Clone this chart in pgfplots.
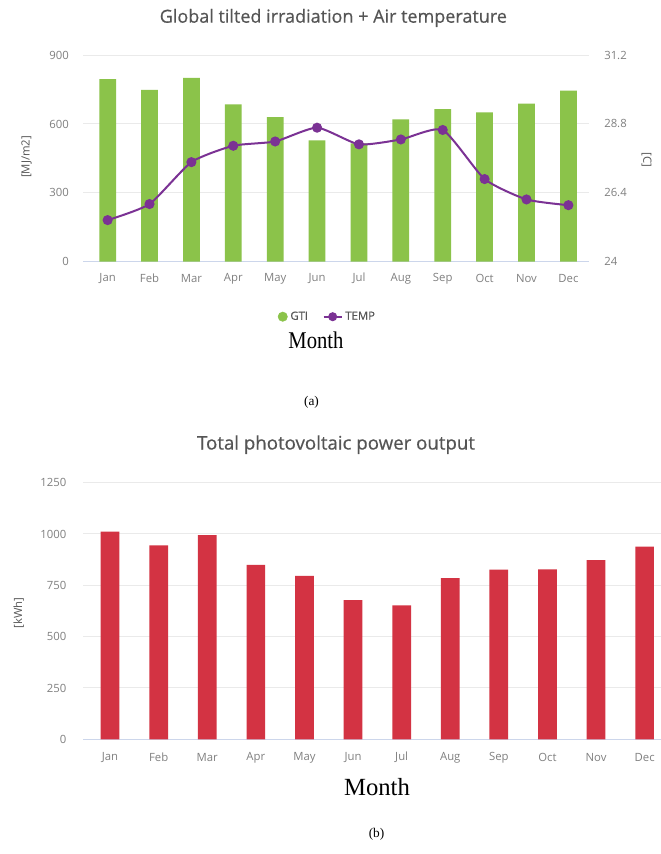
\documentclass[border=0pt]{standalone}
\usepackage{pgfplots}
\pgfplotsset{compat=1.18}
\usepackage{fontspec}
\setmainfont{Liberation Serif}
\newfontfamily\hc{Open Sans}
\newfontfamily\hct{Open Sans}[FakeBold=0.5]
\newfontfamily\hcb{Open Sans}[FakeBold=0.4]
\newfontfamily\tmsn{Liberation Serif}[FakeStretch=0.86]
\definecolor{gti}{HTML}{8BC34A}
\definecolor{temp}{HTML}{7B3294}
\definecolor{pv}{HTML}{D33343}
\definecolor{titlec}{HTML}{555555}
\definecolor{tickc}{HTML}{808080}
\definecolor{gridc}{HTML}{EAEAEA}
\definecolor{axc}{HTML}{CCD6EB}

\pgfplotstableread{
x gti temp pv
0 795 25.45 1011
1 748 26.01 944
2 801 27.47 994
3 685 28.04 850
4 630 28.19 796
5 528 28.67 678
6 515 28.09 652
7 620 28.26 785
8 665 28.59 827
9 650 26.88 828
10 689 26.17 873
11 745 25.97 938
}\data

\pgfplotsset{hcstyle/.style={
  scale only axis,
  axis lines*=left,
  x axis line style={draw=axc, line width=0.75pt, -},
  y axis line style={draw=none},
  major tick length=0pt,
  ymajorgrids, grid style={gridc, line width=0.75pt},
  tick label style={font=\hc\fontsize{8.5}{10}\selectfont, text=tickc},
  /pgf/number format/assume math mode=true,
  /pgf/number format/1000 sep={},
  xtick={0,...,11},
  xticklabels={Jan,Feb,Mar,Apr,May,Jun,Jul,Aug,Sep,Oct,Nov,Dec},
  clip=false,
}}

\begin{document}
\begin{tikzpicture}
\useasboundingbox (0pt,0pt) rectangle (495.75pt,640.5pt);
\fill[white] (0pt,0pt) rectangle (495.75pt,640.5pt);

% ---------- (a) ----------
\begin{axis}[hcstyle, at={(62.5pt,444.2pt)}, anchor=south west,
  width=379.5pt, height=155pt,
  xmin=-0.58, xmax=11.5, ymin=0, ymax=900, ytick={0,300,600,900},
  xticklabel style={anchor=center, yshift=-12.45pt},
  yticklabel style={anchor=east, inner sep=0pt, xshift=-10.7pt}]
\addplot[ybar, bar width=0.4, bar shift=0pt, fill=gti, draw=none] table[x=x, y=gti] {\data};
\end{axis}
\begin{axis}[scale only axis, at={(62.5pt,444.2pt)}, anchor=south west,
  width=379.5pt, height=155pt, clip=false,
  xmin=-0.58, xmax=11.5, ymin=24, ymax=31.2,
  axis x line=none, axis y line*=right, y axis line style={draw=none},
  major tick length=0pt, ytick={24,26.4,28.8,31.2},
  tick label style={font=\hc\fontsize{8.5}{10}\selectfont, text=tickc},
  /pgf/number format/assume math mode=true,
  yticklabel style={anchor=west, inner sep=0pt, xshift=11pt},
  legend columns=2,
  legend style={at={(0.483,-0.266)}, anchor=center, draw=none, fill=none,
    font=\hcb\fontsize{8.5}{10}\selectfont, text=titlec,
    /tikz/every even column/.append style={column sep=9pt}},
  legend cell align=left]
\addlegendimage{legend image code/.code={\fill[gti] (0.3em,0pt) circle (3.5pt);}}
\addlegendentry{GTI}
\addplot[temp, line width=1.5pt, smooth, tension=0.35, mark=*, mark size=3pt,
  mark options={fill=temp, draw=temp},
  legend image code/.code={\draw[temp, line width=1.5pt] (0pt,0pt) -- (13.5pt,0pt);
    \fill[temp] (6.75pt,0pt) circle (2.6pt);}] table[x=x, y=temp] {\data};
\addlegendentry{TEMP}
\end{axis}

\node[font=\hct\fontsize{13.5}{16}\selectfont, text=titlec] at (250pt,627pt) {Global tilted irradiation + Air temperature};
\node[font=\hc\fontsize{8.5}{10}\selectfont, text=titlec, rotate=90] at (20pt,522.75pt) {[MJ/m2]};
\node[font=\hc\fontsize{8.5}{10}\selectfont, text=titlec, rotate=-90] at (485pt,520.5pt) {[C]};
\node[font=\tmsn\fontsize{18}{20}\selectfont] at (237pt,385.5pt) {Month};
\node[font=\fontsize{10}{12}\selectfont] at (233.6pt,338.5pt) {(a)};

% ---------- (b) ----------
\begin{axis}[hcstyle, at={(62.5pt,86.0pt)}, anchor=south west,
  width=439.2pt, height=192.5pt,
  xmin=-0.55, xmax=11.5, ymin=0, ymax=1250, ytick={0,250,500,750,1000,1250},
  xticklabel style={anchor=center, yshift=-13.5pt},
  yticklabel style={anchor=east, inner sep=0pt, xshift=-12.5pt}]
\addplot[ybar, bar width=0.385, bar shift=0pt, fill=pv, draw=none] table[x=x, y=pv] {\data};
\end{axis}

\node[font=\hct\fontsize{14}{16}\selectfont, text=titlec] at (252pt,307pt) {Total photovoltaic power output};
\node[font=\hc\fontsize{8.5}{10}\selectfont, text=titlec, rotate=90] at (14pt,180.75pt) {[kWh]};
\node[font=\fontsize{18.5}{20}\selectfont] at (282.75pt,50.5pt) {Month};
\node[font=\fontsize{10}{12}\selectfont] at (282.4pt,15pt) {(b)};
\end{tikzpicture}
\end{document}
